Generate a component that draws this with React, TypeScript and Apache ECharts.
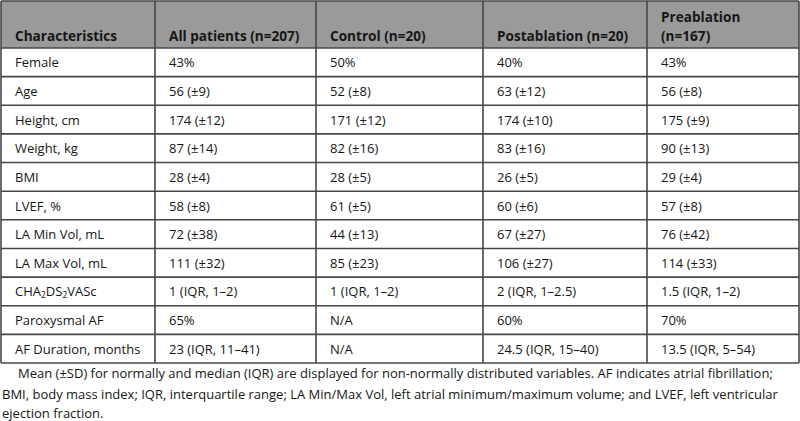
import React, { useEffect, useRef } from "react";
import * as echarts from "echarts";

const headers = ["Characteristics", "All patients (n=207)", "Control (n=20)", "Postablation (n=20)", "Preablation\n(n=167)"];
const characteristics = [
  "Female", "Age", "Height, cm", "Weight, kg", "BMI", "LVEF, %", "LA Min Vol, mL", "LA Max Vol, mL",
  "CHA{sub|2}DS{sub|2}VASc", "Paroxysmal AF", "AF Duration, months",
];
const allPatients = ["43%", "56 (±9)", "174 (±12)", "87 (±14)", "28 (±4)", "58 (±8)", "72 (±38)", "111 (±32)", "1 (IQR, 1–2)", "65%", "23 (IQR, 11–41)"];
const control = ["50%", "52 (±8)", "171 (±12)", "82 (±16)", "28 (±5)", "61 (±5)", "44 (±13)", "85 (±23)", "1 (IQR, 1–2)", "N/A", "N/A"];
const postablation = ["40%", "63 (±12)", "174 (±10)", "83 (±16)", "26 (±5)", "60 (±6)", "67 (±27)", "106 (±27)", "2 (IQR, 1–2.5)", "60%", "24.5 (IQR, 15–40)"];
const preablation = ["43%", "56 (±8)", "175 (±9)", "90 (±13)", "29 (±4)", "57 (±8)", "76 (±42)", "114 (±33)", "1.5 (IQR, 1–2)", "70%", "13.5 (IQR, 5–54)"];
const captionLines = [
  "Mean (±SD) for normally and median (IQR) are displayed for non-normally distributed variables. AF indicates atrial fibrillation;",
  "BMI, body mass index; IQR, interquartile range; LA Min/Max Vol, left atrial minimum/maximum volume; and LVEF, left ventricular",
  "ejection fraction.",
];

const FONT = "'Open Sans', 'Noto Sans', sans-serif";

export default function App() {
  const ref = useRef<HTMLDivElement>(null);
  useEffect(() => {
    if (!ref.current) return;
    const chart = echarts.init(ref.current, null, { renderer: "svg" });
    const colX = [1, 155, 316, 483, 647, 799];
    const headTop = 1;
    const headBottom = 48;
    const tableBottom = 363;
    const nRows = characteristics.length;
    const rowH = (tableBottom - headBottom) / nRows;
    const border = "#474747";
    const fs = 13;
    const txt = "#161616";
    const els: any[] = [];
    els.push({ type: "rect", shape: { x: colX[0], y: headTop, width: colX[5] - colX[0], height: headBottom - headTop }, style: { fill: "#9a9a9a" } });
    els.push({ type: "rect", shape: { x: colX[0], y: headBottom, width: colX[5] - colX[0], height: tableBottom - headBottom }, style: { fill: "#ffffff" } });
    const hy = [headTop, headBottom];
    for (let i = 1; i <= nRows; i++) hy.push(headBottom + rowH * i);
    hy.forEach((y) => els.push({ type: "line", shape: { x1: colX[0], y1: y, x2: colX[5], y2: y }, style: { stroke: border, lineWidth: 1.6 } }));
    colX.forEach((x) => els.push({ type: "line", shape: { x1: x, y1: headTop, x2: x, y2: tableBottom }, style: { stroke: border, lineWidth: 1.6 } }));
    headers.forEach((h, i) => {
      els.push({
        type: "text", x: colX[i] + 14, y: 45,
        style: { text: h, font: `bold 13.6px ${FONT}`, fill: txt, textVerticalAlign: "bottom", lineHeight: 19 },
      });
    });
    const cols = [characteristics, allPatients, control, postablation, preablation];
    cols.forEach((col, ci) => {
      col.forEach((t, ri) => {
        const cy = headBottom + rowH * (ri + 0.5);
        els.push({
          type: "text", x: colX[ci] + 14, y: cy,
          style: {
            text: t, font: `${fs}px ${FONT}`, fill: txt, textVerticalAlign: "middle",
            rich: { sub: { fontSize: 8.5, fontFamily: FONT, fill: txt, verticalAlign: "bottom", padding: [6, 0, 0, 0] } },
          },
        });
      });
    });
    const capY = [373, 394, 413];
    captionLines.forEach((t, i) => {
      els.push({
        type: "text", x: i === 0 ? 18 : 2, y: capY[i],
        style: { text: t, font: `${fs}px ${FONT}`, fill: txt, textVerticalAlign: "middle" },
      });
    });
    chart.setOption({ animation: false, graphic: { elements: els } });
    return () => chart.dispose();
  }, []);
  return <div ref={ref} style={{ width: 800, height: 421, position: "absolute", left: 0, top: 0, background: "#fff" }} />;
}
